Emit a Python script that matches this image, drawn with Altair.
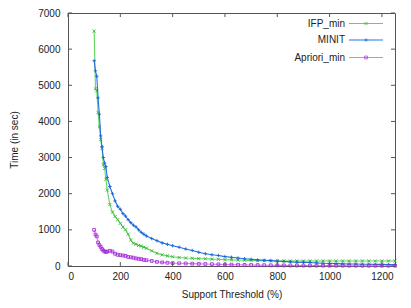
import altair as alt
import pandas as pd

# ---- data ----
x_vals = [100, 105, 110, 115, 120, 125, 130, 135, 140, 145, 150,
          160, 170, 180, 190, 200, 210, 220, 230, 240, 250, 260, 270, 280, 290, 300,
          320, 340, 360, 380, 400,
          425, 450, 475, 500, 525, 550, 575, 600, 625, 650, 675, 700, 725, 750, 775,
          800, 825, 850, 875, 900, 925, 950, 975, 1000, 1025, 1050, 1075, 1100, 1125,
          1150, 1175, 1200, 1225, 1250]

ifp_min = [6500, 4900, 4850, 4250, 3850, 3500, 3250, 2800, 2700, 2400, 2100,
           1700, 1490, 1370, 1280, 1180, 1080, 1000, 880, 720, 630, 600, 570, 550, 520, 490,
           420, 350, 310, 280, 255,
           235, 220, 215, 205, 200, 190, 185, 175, 170, 165, 160, 155, 150, 150, 145,
           145, 140, 140, 140, 140, 140, 140, 140, 140, 140, 140, 140, 140, 140,
           140, 140, 140, 140, 140]

minit = [5680, 5400, 5250, 4650, 4200, 3600, 3300, 3000, 2850, 2750, 2450,
         2200, 2000, 1800, 1650, 1570, 1450, 1380, 1280, 1200, 1130, 1080, 1000, 930, 880, 830,
         760, 700, 640, 600, 560,
         520, 470, 430, 380, 340, 310, 290, 260, 240, 220, 200, 185, 170, 160, 150,
         135, 125, 115, 105, 100, 95, 85, 75, 70, 65, 60, 55, 55, 50,
         50, 45, 45, 40, 40]

apriori_min = [1000, 870, 820, 650, 580, 530, 470, 430, 400, 390, 400,
               420, 400, 340, 310, 300, 290, 280, 250, 240, 230, 210, 200, 190, 170, 160,
               140, 115, 100, 90, 80,
               75, 70, 65, 60, 55, 50, 45, 40, 38, 35, 30, 28, 25, 22, 20,
               18, 16, 15, 14, 13, 12, 12, 11, 10, 10, 10, 9, 9, 9,
               8, 8, 8, 8, 8]

series_names = ["IFP_min", "MINIT", "Apriori_min"]
series_values = [ifp_min, minit, apriori_min]

x_ticks = [0, 200, 400, 600, 800, 1000, 1200]
y_ticks = [0, 1000, 2000, 3000, 4000, 5000, 6000, 7000]

# ---- styles ----
line_colors = ["#5ed65e", "#2372e4", "#d97cff"]
marker_colors = ["#2fb42f", "#1060d6", "#a02ad6"]
X_PATH = "M-1,-1L1,1M-1,1L1,-1"
PLUS_PATH = "M-1,0L1,0M0,-1L0,1"
marker_shapes = [X_PATH, PLUS_PATH, "square"]
marker_sizes = [10, 12, 8]

W, H = 327, 253
FONT = "Liberation Sans"

xscale = alt.Scale(domain=[0, 1250], nice=False, zero=False)
yscale = alt.Scale(domain=[0, 7000], nice=False)
xaxis = alt.Axis(values=x_ticks, format="d")
yaxis = alt.Axis(values=y_ticks, format="d")
XT = "Support Threshold (%)"
YT = "Time (in sec)"


def X(f):
    return alt.X(f, scale=xscale, title=XT, axis=xaxis)


def Y(f):
    return alt.Y(f, scale=yscale, title=YT, axis=yaxis)


layers = []
for i, (name, vals) in enumerate(zip(series_names, series_values)):
    df = pd.DataFrame({"x": x_vals, "y": vals, "series": name})
    line = alt.Chart(df).mark_line(color=line_colors[i], strokeWidth=1.1).encode(
        x=X("x:Q"), y=Y("y:Q"))
    pts = alt.Chart(df).mark_point(shape=marker_shapes[i], size=marker_sizes[i],
                                   color=marker_colors[i], filled=False,
                                   strokeWidth=1, opacity=0.85).encode(
        x=X("x:Q"), y=Y("y:Q"))
    layers += [line, pts]

# inward ticks on all four sides (gnuplot style)
tx = pd.DataFrame({"x": x_ticks})
ty = pd.DataFrame({"y": y_ticks})
TL = 4
tick_col = "#555555"
layers.append(alt.Chart(tx).mark_rule(color=tick_col, strokeWidth=1).encode(
    x=X("x:Q"), y=alt.value(H), y2=alt.value(H - TL)))
layers.append(alt.Chart(tx).mark_rule(color=tick_col, strokeWidth=1).encode(
    x=X("x:Q"), y=alt.value(0), y2=alt.value(TL)))
layers.append(alt.Chart(ty).mark_rule(color=tick_col, strokeWidth=1).encode(
    y=Y("y:Q"), x=alt.value(0), x2=alt.value(TL)))
layers.append(alt.Chart(ty).mark_rule(color=tick_col, strokeWidth=1).encode(
    y=Y("y:Q"), x=alt.value(W), x2=alt.value(W - TL)))

# custom gnuplot-style legend (label left of sample)
leg_y = [10.5, 27, 44.5]
for i, name in enumerate(series_names):
    d = pd.DataFrame({"name": [name]})
    layers.append(alt.Chart(d).mark_text(align="right", baseline="middle", font=FONT,
                                         fontSize=10, color="#222222").encode(
        x=alt.value(277), y=alt.value(leg_y[i]), text="name:N"))
    layers.append(alt.Chart(d).mark_rule(color=line_colors[i], strokeWidth=1.1).encode(
        x=alt.value(281), x2=alt.value(315), y=alt.value(leg_y[i])))
    layers.append(alt.Chart(d).mark_point(shape=marker_shapes[i], size=marker_sizes[i],
                                          color=marker_colors[i], filled=False,
                                          strokeWidth=1).encode(
        x=alt.value(298), y=alt.value(leg_y[i])))

chart = alt.layer(*layers).properties(
    width=W, height=H,
    padding={"left": 60, "top": 5, "right": 8, "bottom": 40},
    autosize=alt.AutoSizeParams(type="none"),
).configure_view(
    stroke="#555555", strokeWidth=1
).configure_axis(
    domain=False, ticks=False, grid=False,
    labelFont=FONT, labelFontSize=10, labelColor="#222222",
    titleFont=FONT, titleFontSize=10, titleFontWeight="normal", titleColor="#222222",
).configure_axisX(
    labelPadding=5, titlePadding=8
).configure_axisY(
    labelPadding=8, titlePadding=18
)

chart.save("out.html", embed_options={"renderer": "svg", "actions": False})
